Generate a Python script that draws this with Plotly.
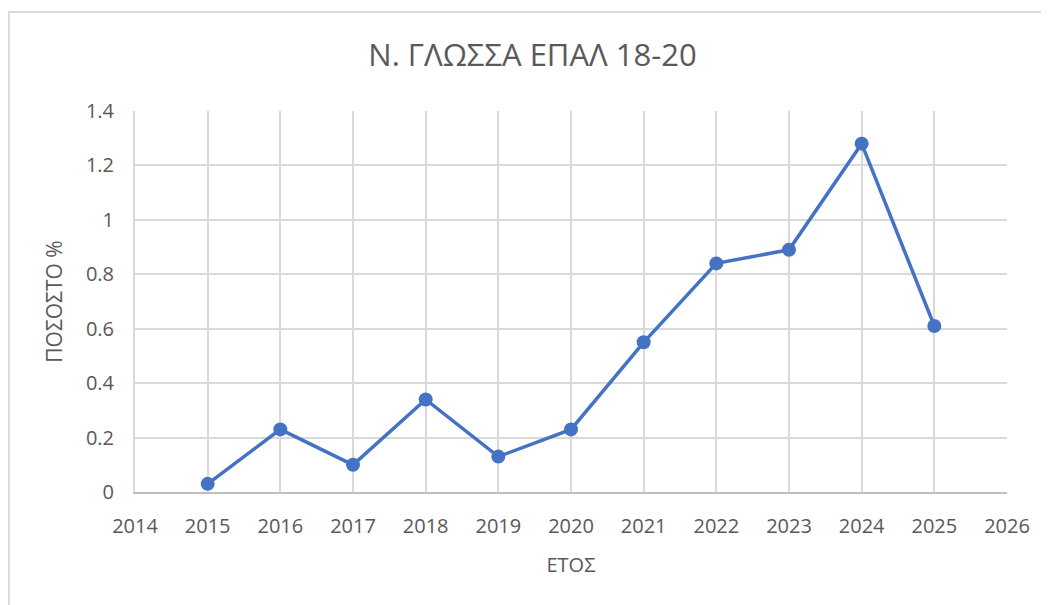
import plotly.graph_objects as go

years = [2015, 2016, 2017, 2018, 2019, 2020, 2021, 2022, 2023, 2024, 2025]
values = [0.03, 0.23, 0.10, 0.34, 0.13, 0.23, 0.55, 0.84, 0.89, 1.28, 0.61]
title_text = "Ν. ΓΛΩΣΣΑ ΕΠΑΛ 18-20"
x_title = "ΕΤΟΣ"
y_title = "ΠΟΣΟΣΤΟ %"

font_family = "Open Sans, Noto Sans, sans-serif"
grey = "#595959"

W, H = 1049, 605
L, R, T, B = 127, 50, 103, 121
PW, PH = W - L - R, H - T - B

fig = go.Figure()
fig.add_trace(go.Scatter(
    x=years, y=values, mode="lines+markers",
    line=dict(color="#4472C4", width=3.5),
    marker=dict(color="#4472C4", size=14),
    showlegend=False, cliponaxis=False,
))

fig.update_layout(
    width=W, height=H,
    paper_bgcolor="white", plot_bgcolor="white",
    margin=dict(l=L, r=R, t=T, b=B),
    title=dict(text=title_text, x=0.5, xanchor="center", y=1 - 47 / H, yanchor="middle",
               font=dict(family=font_family, size=31, color=grey)),
    font=dict(family=font_family, color=grey, size=20),
    xaxis=dict(
        range=[2014, 2026], tickmode="linear", tick0=2014, dtick=1,
        showgrid=True, gridcolor="#d9d9d9", gridwidth=2,
        showline=True, linecolor="#bfbfbf", linewidth=2,
        zeroline=False, ticks="", ticklabelstandoff=15,
        title=dict(text=x_title, font=dict(size=20, color=grey), standoff=20),
        tickfont=dict(size=20, color=grey),
    ),
    yaxis=dict(
        range=[0, 1.4], tickmode="linear", tick0=0, dtick=0.2,
        showgrid=True, gridcolor="#d9d9d9", gridwidth=2,
        showline=True, linecolor="#d9d9d9", linewidth=2,
        zeroline=False, ticks="", ticklabelstandoff=15,
        title=dict(text=y_title, font=dict(size=21, color=grey), standoff=18),
        tickfont=dict(size=20, color=grey),
    ),
)

# outer chart-area border (top and left visible in the reference)
fig.add_shape(type="rect", xref="paper", yref="paper",
              x0=(0.8 - L) / PW, x1=(W + 20 - L) / PW,
              y0=-(B + 20) / PH, y1=1 + (T - 4) / PH,
              line=dict(color="#d9d9d9", width=2), fillcolor="rgba(0,0,0,0)", layer="below")

fig.write_html("out.html")
